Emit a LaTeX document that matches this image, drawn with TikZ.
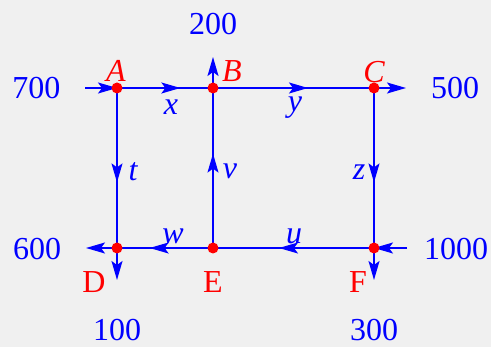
\documentclass[tikz,border=0pt]{standalone}
\usepackage{fontspec}
\setmainfont{Liberation Serif}
\usetikzlibrary{arrows.meta,decorations.markings}
\definecolor{bgcol}{HTML}{F0F0F0}

\begin{document}
\begin{tikzpicture}[x=1pt,y=-1pt,
    every node/.style={font=\fontsize{32}{38}\selectfont},
    flow/.style={draw=blue,line width=1.5pt},
    tip/.style={-{Stealth[length=19pt,width=11pt,inset=4pt]}},
    midarrow/.style={postaction={decorate,decoration={markings,
      mark=at position #1 with {\arrow{Stealth[length=19pt,width=11pt,inset=4pt]}}}}},
    station/.style={text=red},
    amount/.style={text=blue},
    unknown/.style={text=blue,font=\fontsize{32}{38}\selectfont\itshape}]
    % background and frame
    \fill[bgcol] (0,0) rectangle (491,347);
    \useasboundingbox (0,0) rectangle (491,347);
    % junctions
    \coordinate (A) at (117,88);
    \coordinate (B) at (213,88);
    \coordinate (C) at (374,88);
    \coordinate (D) at (117,248);
    \coordinate (E) at (213,248);
    \coordinate (F) at (374,248);
    % free ends of the outer flows
    \coordinate (in700) at (85,88);
    \coordinate (out200) at (213,57);
    \coordinate (out500) at (406,88);
    \coordinate (out600) at (86,248);
    \coordinate (out100) at (117,280);
    \coordinate (in1000) at (407,248);
    \coordinate (out300) at (374,280);
    % inner streets
    \draw[flow,midarrow=0.66] (A) -- (B);
    \draw[flow,midarrow=0.59] (B) -- (C);
    \draw[flow,midarrow=0.59] (A) -- (D);
    \draw[flow,midarrow=0.59] (E) -- (B);
    \draw[flow,midarrow=0.59] (C) -- (F);
    \draw[flow,midarrow=0.59] (F) -- (E);
    \draw[flow,midarrow=0.66] (E) -- (D);
    % outer flows
    \draw[flow,tip] (in700) -- (A);
    \draw[flow,tip] (B) -- (out200);
    \draw[flow,tip] (C) -- (out500);
    \draw[flow,tip] (D) -- (out600);
    \draw[flow,tip] (D) -- (out100);
    \draw[flow,tip] (in1000) -- (F);
    \draw[flow,tip] (F) -- (out300);
    % dots
    \foreach \p in {A,B,C,D,E,F} \fill[red] (\p) circle (5.5pt);
    % junction names
    \node[station] (labA) at (116,71) {\itshape A};
    \node[station] (labB) at (232,71) {\itshape B};
    \node[station] (labC) at (374,72) {\itshape C};
    \node[station] (labD) at (94,282) {D};
    \node[station] (labE) at (213,282) {E};
    \node[station] (labF) at (358,282) {F};
    % unknowns
    \node[unknown] (labx) at (171,107) {x};
    \node[unknown] (laby) at (295,108) {y};
    \node[unknown] (labt) at (133,172) {t};
    \node[unknown] (labv) at (230,171) {v};
    \node[unknown] (labz) at (359,172) {z};
    \node[unknown] (labw) at (173,236) {w};
    \node[unknown] (labu) at (294,236) {u};
    % amounts
    \node[amount] (n700) at (36.5,88) {700};
    \node[amount] (n200) at (213,24) {200};
    \node[amount] (n500) at (455,88) {500};
    \node[amount] (n600) at (37,249) {600};
    \node[amount] (n1000) at (456,249) {1000};
    \node[amount] (n100) at (117,330) {100};
    \node[amount] (n300) at (374,330) {300};
\end{tikzpicture}
\end{document}
